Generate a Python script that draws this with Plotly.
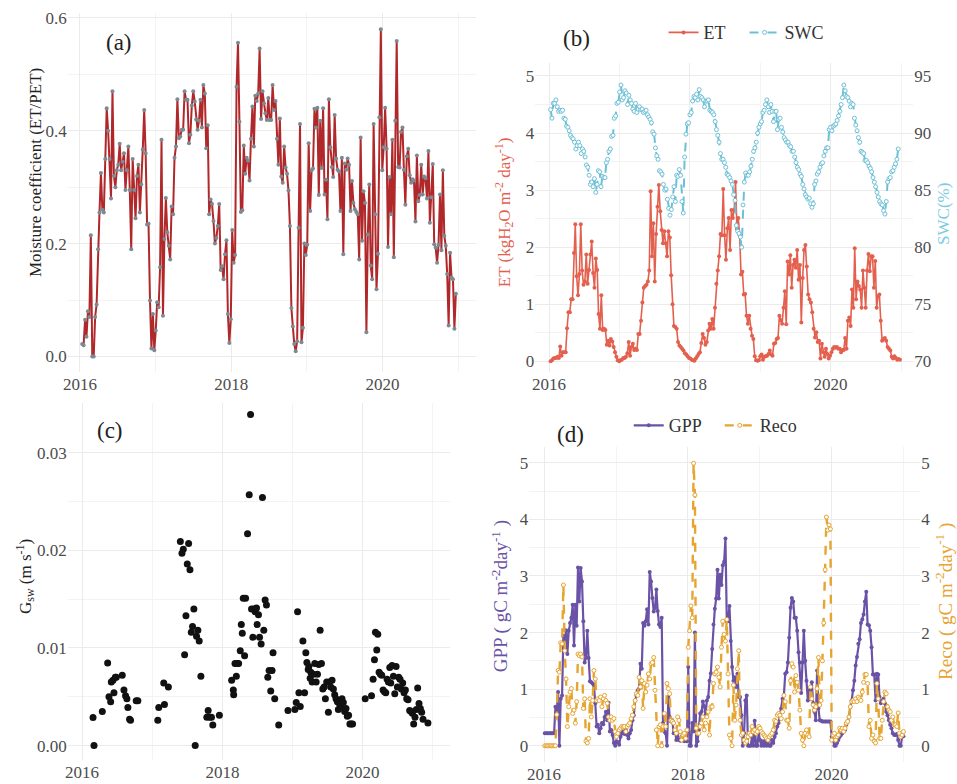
import numpy as np
import pandas as pd
import plotly.graph_objects as go

W, H = 957, 784
SERIF = "Liberation Serif"
TICK_COLOR = "#4d4d4d"
GRID = "#ebebeb"
GRID_MINOR = "#f3f3f3"

# ---------------- data ----------------
# (a) moisture coefficient ET/PET, weekly
moist_start, moist_end = "2016-01-12", "2020-12-20"
moist = [0.022,0.02,0.065,0.035,0.08,0.07,0.215,0.0,0.0,0.07,0.092,0.19,0.255,0.325,0.26,0.255,0.35,0.44,0.40,0.35,0.28,0.47,0.32,0.30,0.33,0.34,0.377,0.33,0.345,0.36,0.295,0.33,0.372,0.295,0.19,0.35,0.295,0.245,0.32,0.34,0.255,0.305,0.367,0.437,0.36,0.234,0.235,0.099,0.014,0.075,0.011,0.046,0.096,0.087,0.158,0.384,0.072,0.208,0.281,0.22,0.196,0.172,0.266,0.252,0.352,0.372,0.456,0.387,0.39,0.402,0.402,0.47,0.455,0.455,0.378,0.393,0.445,0.47,0.452,0.42,0.402,0.418,0.455,0.406,0.481,0.466,0.369,0.41,0.252,0.278,0.27,0.24,0.2,0.21,0.231,0.27,0.153,0.16,0.137,0.181,0.206,0.075,0.024,0.066,0.224,0.166,0.18,0.478,0.556,0.416,0.256,0.259,0.374,0.324,0.352,0.347,0.312,0.386,0.443,0.372,0.462,0.453,0.466,0.546,0.421,0.47,0.449,0.431,0.419,0.458,0.419,0.419,0.481,0.437,0.453,0.386,0.34,0.422,0.319,0.308,0.372,0.335,0.324,0.294,0.231,0.086,0.053,0.022,0.009,0.027,0.228,0.412,0.025,0.051,0.2,0.18,0.198,0.378,0.258,0.33,0.333,0.439,0.406,0.441,0.286,0.418,0.334,0.44,0.287,0.313,0.243,0.456,0.371,0.336,0.318,0.428,0.351,0.331,0.328,0.258,0.352,0.181,0.342,0.331,0.351,0.34,0.258,0.311,0.272,0.261,0.256,0.252,0.172,0.388,0.205,0.293,0.272,0.043,0.216,0.305,0.161,0.137,0.412,0.252,0.119,0.182,0.424,0.58,0.33,0.371,0.441,0.368,0.194,0.318,0.252,0.384,0.176,0.418,0.559,0.336,0.335,0.398,0.406,0.331,0.269,0.355,0.368,0.321,0.308,0.314,0.312,0.239,0.356,0.275,0.286,0.34,0.287,0.319,0.316,0.28,0.364,0.237,0.282,0.341,0.199,0.193,0.166,0.198,0.287,0.188,0.33,0.214,0.196,0.146,0.055,0.184,0.14,0.137,0.049,0.111]

# (b) evapotranspiration (kg H2O m-2 day-1) and soil water content (%)
et_start, et_end = "2016-01-09", "2020-12-26"
et = [0.0,0.02,0.05,0.06,0.06,0.08,0.06,0.26,0.1,0.16,0.16,0.16,0.58,0.86,0.86,1.09,1.09,1.9,2.4,1.49,1.16,1.53,2.4,1.59,1.34,1.4,1.87,1.36,1.6,1.87,2.1,1.55,1.29,1.8,1.6,0.83,0.57,1.16,0.55,0.57,0.55,0.29,0.36,0.28,0.39,0.35,0.25,0.16,0.08,0.02,0.0,0.02,0.03,0.06,0.06,0.08,0.14,0.34,0.1,0.25,0.31,0.2,0.22,0.2,0.48,0.48,0.71,1.03,1.29,1.32,1.34,1.4,1.59,2.98,1.84,2.42,1.4,2.23,2.71,3.09,2.63,2.3,2.07,2.28,2.07,1.84,2.28,2.17,1.51,1.0,0.62,0.6,0.57,0.34,0.28,0.25,0.22,0.19,0.14,0.12,0.09,0.06,0.05,0.03,0.02,0.01,0.05,0.09,0.13,0.16,0.32,0.48,0.41,0.29,0.34,0.54,0.66,0.57,0.74,0.57,0.94,1.36,1.59,1.84,2.23,2.21,3.02,2.21,1.78,2.33,2.51,1.95,2.65,2.51,2.65,3.14,2.32,2.51,2.21,1.52,1.57,1.17,1.18,0.8,0.66,0.8,0.57,0.45,0.39,0.09,0.02,0.01,0.02,0.09,0.12,0.03,0.08,0.09,0.1,0.13,0.19,0.12,0.1,0.31,0.32,0.39,0.41,0.8,0.72,0.66,0.94,1.23,0.65,1.75,1.52,1.86,1.29,1.69,1.78,1.64,1.95,1.43,1.69,0.68,1.46,1.95,2.04,1.66,1.17,1.09,1.03,0.86,0.57,0.42,0.51,0.34,0.36,0.05,0.31,0.16,0.08,0.22,0.13,0.05,0.1,0.16,0.22,0.25,0.24,0.25,0.22,0.22,0.16,0.2,0.2,0.41,0.22,0.71,0.77,0.62,1.26,0.94,1.98,1.09,1.4,1.32,1.26,0.94,1.59,1.29,0.94,1.59,1.88,1.58,1.84,1.84,1.29,1.76,0.94,1.14,1.17,0.71,0.36,0.39,0.41,0.36,0.25,0.22,0.19,0.08,0.05,0.09,0.06,0.03,0.04,0.03]

swc_start, swc_end = "2016-01-09", "2020-12-17"
swc = [92.05,91.3,92.6,92.6,92.9,92.3,91.9,92.0,91.9,92.0,91.3,91.2,90.6,90.5,90.2,89.8,89.6,89.5,89.2,88.6,88.9,89.2,88.9,88.2,88.6,88.4,87.9,87.2,87.0,86.3,85.5,85.7,85.3,86.0,84.8,85.5,86.7,86.6,85.3,86.2,86.1,86.1,87.4,87.7,88.4,88.6,89.7,89.8,91.3,91.5,92.6,92.7,93.6,94.2,92.9,93.1,93.7,93.5,92.5,93.3,92.9,92.6,92.1,91.9,92.6,91.8,92.1,92.3,92.05,92.1,91.8,91.9,92.0,91.6,91.4,91.2,90.9,90.1,89.9,88.7,88.0,87.7,86.7,86.6,86.4,85.5,85.0,85.1,84.2,83.4,82.8,83.3,84.4,85.3,84.0,86.3,86.2,86.8,86.3,84.0,83.0,87.9,89.9,90.8,90.9,91.6,91.8,92.8,93.2,93.1,93.4,92.9,93.8,93.2,93.1,92.9,92.3,92.8,92.8,92.9,92.0,91.9,91.8,91.6,91.0,90.3,89.8,89.2,88.2,87.7,87.7,87.4,87.0,86.4,86.3,86.1,85.8,85.5,84.6,84.1,81.9,81.4,81.2,80.9,80.0,83.7,85.7,86.5,86.3,86.3,86.6,87.1,87.7,88.4,88.7,89.2,90.0,90.5,90.8,91.0,91.8,92.0,92.5,92.9,92.3,91.8,92.5,91.9,91.0,91.9,91.9,90.3,91.2,91.3,90.5,90.1,89.6,89.4,89.2,89.2,88.9,88.8,88.4,88.4,87.9,87.4,87.0,86.8,86.4,86.2,85.5,85.1,84.6,84.4,84.2,84.3,83.8,83.5,83.8,85.5,85.8,86.4,86.6,87.0,87.3,87.4,88.0,88.4,88.7,88.7,90.3,90.5,90.2,90.6,90.7,90.8,91.1,91.5,91.9,92.5,93.1,94.2,93.7,93.2,93.1,92.8,92.3,92.6,92.5,91.3,90.7,90.2,89.6,89.2,88.4,88.3,88.2,87.6,87.6,87.4,87.1,86.9,86.6,86.1,85.7,85.3,84.8,84.4,84.0,83.8,83.7,83.2,82.9,84.0,85.7,86.0,86.1,86.6,86.7,87.0,87.3,87.7,88.6]

# (c) surface conductance Gsw (m s-1), decimal years
gsw_year = [2016.156,2016.170,2016.288,2016.364,2016.383,2016.407,2016.416,2016.440,2016.454,2016.473,2016.487,2016.572,2016.596,2016.619,2016.638,2016.652,2016.676,2016.690,2016.771,2016.794,
            2017.078,2017.092,2017.163,2017.173,2017.229,2017.400,2017.423,2017.442,2017.461,2017.480,2017.499,2017.518,2017.537,2017.556,2017.574,2017.593,2017.612,2017.631,2017.650,2017.669,2017.693,2017.778,2017.797,2017.820,2017.844,2017.863,2017.957,
            2018.132,2018.156,2018.161,2018.199,2018.180,2018.213,2018.232,2018.255,2018.270,2018.284,2018.298,2018.317,2018.331,2018.359,2018.383,2018.402,2018.416,2018.435,2018.449,2018.468,2018.487,2018.496,2018.515,2018.530,2018.553,2018.572,2018.591,2018.610,2018.629,2018.648,2018.667,2018.690,2018.709,2018.723,2018.747,2018.804,2018.936,
            2019.035,2019.054,2019.073,2019.092,2019.111,2019.149,2019.173,2019.191,2019.206,2019.225,2019.234,2019.253,2019.262,2019.281,2019.300,2019.319,2019.338,2019.357,2019.376,2019.395,2019.414,2019.433,2019.452,2019.470,2019.489,2019.513,2019.527,2019.546,2019.565,2019.584,2019.603,2019.622,2019.641,2019.655,2019.669,2019.688,2019.707,2019.726,2019.745,2019.764,2019.783,2019.801,2019.820,2019.839,2019.858,
            2020.038,2020.128,2020.151,2020.170,2020.184,2020.203,2020.217,2020.236,2020.255,2020.274,2020.293,2020.312,2020.331,2020.350,2020.369,2020.388,2020.402,2020.421,2020.440,2020.459,2020.478,2020.496,2020.515,2020.534,2020.553,2020.572,2020.591,2020.610,2020.629,2020.648,2020.671,2020.690,2020.709,2020.728,2020.747,2020.766,2020.785,2020.804,2020.823,2020.842,2020.861,2020.931]
gsw = [0.00287,0.0,0.0035,0.00845,0.005,0.0045,0.0065,0.0067,0.0054,0.007,0.007,0.0072,0.0057,0.0051,0.0048,0.0039,0.0027,0.0026,0.0046,0.0046,
       0.0026,0.0039,0.0064,0.0042,0.006,0.0209,0.0197,0.0201,0.0093,0.0133,0.0186,0.0207,0.018,0.0116,0.0122,0.014,0.0,0.0112,0.0118,0.0107,0.0071,0.0029,0.0036,0.0029,0.0029,0.0021,0.0031,
       0.0067,0.0057,0.0052,0.0071,0.0084,0.0084,0.0084,0.0097,0.0124,0.0115,0.0151,0.0092,0.0151,0.0217,0.0257,0.0339,0.014,0.0111,0.014,0.0137,0.0141,0.0124,0.0134,0.0111,0.0104,0.0254,0.0118,0.0149,0.0144,0.007,0.0077,0.0056,0.0077,0.0095,0.0048,0.0021,0.0036,
       0.0037,0.0044,0.0137,0.0054,0.004,0.0107,0.0054,0.0095,0.0085,0.0078,0.0081,0.0069,0.0075,0.0065,0.0073,0.0084,0.0065,0.0073,0.0083,0.0118,0.0084,0.0058,0.006,0.0048,0.0065,0.0034,0.0065,0.006,0.0067,0.0058,0.0052,0.0048,0.0045,0.0037,0.0043,0.004,0.0048,0.0044,0.0035,0.0038,0.003,0.0031,0.0022,0.0022,0.0022,
       0.0048,0.0051,0.0068,0.0088,0.0116,0.0098,0.0114,0.0075,0.0073,0.0072,0.0057,0.0055,0.0054,0.0068,0.0065,0.008,0.0064,0.0082,0.0071,0.0053,0.0081,0.006,0.007,0.0068,0.0058,0.0064,0.0054,0.0057,0.0048,0.0047,0.0036,0.0035,0.0033,0.0022,0.0029,0.0037,0.0059,0.0043,0.0038,0.0034,0.0027,0.0023]

# (d) GPP and ecosystem respiration (gC m-2 day-1), weekly
flux_start, flux_end = "2016-01-05", "2020-12-31"
gpp = [0.22,0.22,0.22,0.22,0.22,0.22,0.22,0.22,0.69,0.6,0.95,0.0,0.83,0.89,1.94,1.85,2.04,1.62,2.03,2.17,2.26,2.49,1.77,2.49,2.12,3.15,2.55,3.14,2.9,2.2,1.47,1.56,2.03,1.55,1.14,1.12,1.1,1.07,0.75,0.34,0.37,0.22,0.31,0.4,0.38,0.51,0.6,0.45,0.76,0.25,0.28,0.19,0.05,0.0,0.08,0.06,0.02,0.16,0.22,0.25,0.21,0.28,0.19,0.13,0.22,0.28,0.45,0.54,0.8,0.89,0.98,1.01,1.45,1.36,2.17,2.12,2.2,2.41,2.14,3.07,2.9,2.61,2.37,2.44,2.76,2.38,2.14,2.1,2.26,0.4,0.25,0.22,0.0,0.86,0.51,0.43,0.45,0.22,0.28,0.1,0.22,0.1,0.09,0.16,0.21,0.08,0.1,0.08,1.39,0.0,0.0,0.4,0.25,2.0,0.0,0.08,0.28,0.57,0.6,0.78,0.7,0.54,0.8,0.86,1.15,1.28,1.71,2.14,2.42,2.6,3.11,2.6,3.02,2.84,3.19,3.25,3.66,2.2,2.2,2.47,1.85,1.39,1.15,1.21,1.04,1.27,0.86,0.86,0.54,0.0,0.22,0.8,0.89,0.0,0.0,0.0,0.16,0.0,0.44,0.0,0.0,0.22,0.1,0.0,0.08,0.0,0.09,0.0,0.08,0.0,0.0,0.1,0.05,0.16,0.22,0.34,0.4,0.54,0.66,0.83,0.89,1.27,1.3,1.47,1.91,2.44,2.61,2.55,2.26,2.26,2.03,1.65,1.47,0.93,1.47,2.03,1.5,1.15,0.8,0.98,0.82,1.12,0.75,0.6,0.45,1.33,0.66,0.45,0.44,0.43,0.43,0.43,0.43,0.43,0.43,0.43,0.16,0.1,0.0,0.0,0.05,0.1,0.16,0.19,0.22,0.25,0.28,0.37,0.43,0.51,0.69,0.8,0.98,1.15,1.42,1.57,1.8,1.88,2.17,2.23,2.32,2.55,2.72,2.14,2.13,2.03,1.74,1.26,1.26,0.8,1.27,1.26,0.86,0.75,0.8,0.83,0.75,0.6,0.54,0.45,0.37,0.31,0.22,0.19,0.19,0.21,0.1,0.0,0.0,0.16,0.17]
reco = [0.0,0.0,0.0,0.0,0.0,0.0,0.0,0.0,0.0,0.55,1.33,1.3,1.82,1.8,2.84,1.68,1.18,0.34,0.69,0.95,1.01,0.57,0.63,0.4,0.78,1.62,1.59,1.62,1.57,0.66,0.83,0.08,0.05,0.13,0.83,0.51,0.8,1.33,1.18,0.8,0.83,0.8,0.86,0.69,0.83,0.89,0.8,0.75,0.51,0.45,0.51,0.45,0.48,0.25,0.16,0.22,0.28,0.31,0.34,0.33,0.34,0.25,0.34,0.37,0.4,0.48,0.54,0.69,0.8,0.92,0.89,1.21,1.04,1.15,0.66,1.1,0.95,1.07,1.27,1.18,1.45,1.47,1.56,0.98,0.28,0.0,0.34,0.37,0.0,0.34,0.57,0.34,1.1,1.01,0.92,0.45,0.43,0.4,0.28,0.22,0.51,0.45,0.25,0.1,0.19,0.22,0.13,0.28,1.74,2.03,2.47,2.26,4.99,4.43,0.31,0.22,0.22,0.34,0.4,0.51,0.28,0.4,0.51,0.6,0.19,0.69,0.69,1.1,1.27,1.3,1.39,1.21,1.04,1.74,2.2,1.97,1.85,2.23,1.27,0.19,0.13,0.0,1.07,0.45,0.72,1.36,1.68,0.45,0.19,0.22,0.1,0.05,0.08,0.16,0.22,0.19,0.34,0.25,0.28,0.22,0.25,0.34,0.31,0.25,0.22,0.19,0.16,0.13,0.1,0.16,0.19,0.22,0.28,0.45,0.43,0.54,0.57,0.54,0.48,0.6,0.89,0.78,0.45,0.45,0.31,1.15,1.45,1.39,0.95,1.24,1.12,0.98,0.63,0.22,0.1,0.0,0.22,0.28,0.19,0.16,1.04,0.83,0.72,0.63,0.69,1.01,1.56,0.72,0.8,1.5,2.17,3.11,4.04,3.81,3.9,3.83,0.1,0.19,0.22,0.1,0.16,0.19,0.31,0.28,0.31,0.25,0.31,0.4,0.43,0.51,0.69,0.78,0.8,0.78,0.83,0.78,0.86,0.83,0.8,0.95,1.12,1.26,1.26,1.1,0.34,0.45,0.13,0.19,0.08,0.05,1.1,0.83,0.13,0.13,0.45,0.78,0.95,0.92,0.69,0.63,0.6,0.45,0.51,0.37,0.37,0.34,0.58,0.22,0.16,0.19,0.25]

year_ticks = ["2016-01-01", "2018-01-01", "2020-01-01"]
year_labels = ["2016", "2018", "2020"]


def series_dates(start, end, n):
    return pd.date_range(start, end, periods=n)


def decimal_year_to_date(values):
    out = []
    for v in values:
        yr = int(v)
        start = pd.Timestamp(year=yr, month=1, day=1)
        days = (pd.Timestamp(year=yr + 1, month=1, day=1) - start).days
        out.append(start + pd.Timedelta(days=(v - yr) * days))
    return out


def dom_x(left, right):
    return [left / W, right / W]


def dom_y(top, bottom):
    return [1 - bottom / H, 1 - top / H]


fig = go.Figure()

# (a)
fig.add_trace(go.Scatter(
    x=series_dates(moist_start, moist_end, len(moist)), y=moist,
    mode="lines+markers", line=dict(color="#b0282a", width=2),
    marker=dict(color="#7d8a93", size=4), showlegend=False,
    xaxis="x", yaxis="y"))

# (b)
fig.add_trace(go.Scatter(
    x=series_dates(swc_start, swc_end, len(swc)), y=swc, name="SWC",
    mode="lines+markers", line=dict(color="#6cc0d6", width=2, dash="dash"),
    marker=dict(color="white", size=4, line=dict(color="#6cc0d6", width=1)),
    legend="legend", xaxis="x2", yaxis="y3"))
fig.add_trace(go.Scatter(
    x=series_dates(et_start, et_end, len(et)), y=et, name="ET",
    mode="lines+markers", line=dict(color="#e4604e", width=1.6),
    marker=dict(color="#e4604e", size=4), legend="legend",
    xaxis="x2", yaxis="y2"))

# (c)
fig.add_trace(go.Scatter(
    x=decimal_year_to_date(gsw_year), y=gsw, mode="markers",
    marker=dict(color="#111111", size=7), showlegend=False,
    xaxis="x3", yaxis="y4"))

# (d)
flux_dates_g = series_dates(flux_start, flux_end, len(gpp))
flux_dates_r = series_dates(flux_start, flux_end, len(reco))
fig.add_trace(go.Scatter(
    x=flux_dates_g, y=gpp, name="GPP", mode="lines+markers",
    line=dict(color="#6a52a6", width=2.2), marker=dict(color="#6a52a6", size=4),
    legend="legend2", xaxis="x4", yaxis="y5"))
fig.add_trace(go.Scatter(
    x=flux_dates_r, y=reco, name="Reco", mode="lines+markers",
    line=dict(color="#e6a431", width=2.4, dash="dash"),
    marker=dict(color="white", size=4, line=dict(color="#e6a431", width=1)),
    legend="legend2", xaxis="x4", yaxis="y6"))

tick_font = dict(family=SERIF, size=17, color=TICK_COLOR)


def xaxis(domain, anchor, rng):
    return dict(domain=domain, anchor=anchor, type="date", range=rng,
                tickvals=year_ticks, ticktext=year_labels, tickfont=tick_font,
                showgrid=True, gridcolor=GRID, gridwidth=1, zeroline=False,
                showline=False, ticks="",
                minor=dict(tickvals=["2017-01-01", "2019-01-01", "2021-01-01"],
                           showgrid=True, gridcolor=GRID_MINOR, gridwidth=1))


def yaxis(domain, anchor, rng, tv, tt, minor_tv, **kw):
    d = dict(domain=domain, anchor=anchor, range=rng, tickvals=tv, ticktext=tt,
             tickfont=tick_font, showgrid=True, gridcolor=GRID, gridwidth=1,
             zeroline=False, showline=False, ticks="",
             minor=dict(tickvals=minor_tv, showgrid=True, gridcolor=GRID_MINOR, gridwidth=1))
    d.update(kw)
    return d


layout = dict(
    width=W, height=H, margin=dict(l=0, r=0, t=0, b=0),
    paper_bgcolor="white", plot_bgcolor="white",
    font=dict(family=SERIF, color="#333333"),
    xaxis=xaxis(dom_x(63, 473), "y", ["2015-11-03", "2021-03-25"]),
    yaxis=yaxis(dom_y(9, 372), "x", [-0.028, 0.609], [0, 0.2, 0.4, 0.6],
                ["0.0", "0.2", "0.4", "0.6"], [0.1, 0.3, 0.5]),
    xaxis2=xaxis(dom_x(533, 913), "y2", ["2015-10-21", "2021-03-05"]),
    yaxis2=yaxis(dom_y(60, 372), "x2", [-0.19, 5.22], [0, 1, 2, 3, 4, 5],
                 ["0", "1", "2", "3", "4", "5"], [0.5, 1.5, 2.5, 3.5, 4.5]),
    yaxis3=dict(overlaying="y2", anchor="x2", side="right", range=[69.05, 96.1],
                tickvals=[70, 75, 80, 85, 90, 95], tickfont=tick_font,
                showgrid=False, zeroline=False, showline=False, ticks=""),
    xaxis3=xaxis(dom_x(63, 447), "y4", ["2015-10-18", "2021-03-30"]),
    yaxis4=yaxis(dom_y(403, 764), "x3", [-0.0015, 0.0351], [0, 0.01, 0.02, 0.03],
                 ["0.00", "0.01", "0.02", "0.03"], [0.005, 0.015, 0.025]),
    xaxis4=xaxis(dom_x(527, 920), "y5", ["2015-10-18", "2021-03-26"]),
    yaxis5=yaxis(dom_y(448, 766), "x4", [-0.29, 5.27], [0, 1, 2, 3, 4, 5],
                 ["0", "1", "2", "3", "4", "5"], [0.5, 1.5, 2.5, 3.5, 4.5]),
    yaxis6=dict(overlaying="y5", anchor="x4", side="right", range=[-0.29, 5.27],
                tickvals=[0, 1, 2, 3, 4, 5], tickfont=tick_font,
                showgrid=False, zeroline=False, showline=False, ticks=""),
    legend=dict(orientation="h", x=662 / W, y=1 - 29 / H, xanchor="left",
                yanchor="middle", font=dict(family=SERIF, size=18, color="#333333"),
                bgcolor="rgba(0,0,0,0)", itemwidth=30, traceorder="reversed",
                entrywidth=36),
    legend2=dict(orientation="h", x=627 / W, y=1 - 426 / H, xanchor="left",
                 yanchor="middle", font=dict(family=SERIF, size=18, color="#333333"),
                 bgcolor="rgba(0,0,0,0)", itemwidth=30, entrywidth=46),
)
fig.update_layout(**layout)


def text_at(x, y, text, size, color, angle=0):
    fig.add_annotation(x=x / W, y=1 - y / H, xref="paper", yref="paper",
                       text=text, showarrow=False, textangle=angle,
                       xanchor="center", yanchor="middle",
                       font=dict(family=SERIF, size=size, color=color))


# panel tags
text_at(115, 39, "(a)", 23, "#222222")
text_at(575, 35, "(b)", 23, "#222222")
text_at(106, 431, "(c)", 23, "#222222")
text_at(568, 435, "(d)", 23, "#222222")

# axis titles
text_at(30, 170, "Moisture coefficient (ET/PET)", 17, "#222222", -90)
text_at(502, 210, "ET (kgH<sub>2</sub>O m<sup>-2</sup> day<sup>-1</sup>)", 17, "#e4604e", -90)
text_at(944, 212, "SWC(%)", 17, "#7ccbe0", -90)
text_at(20, 578, "G<sub>sw</sub> (m s<sup>-1</sup>)", 17, "#222222", -90)
text_at(498, 598, "GPP ( gC m<sup>-2</sup>day<sup>-1</sup> )", 19, "#6a52a6", -90)
text_at(945, 604, "Reco ( gC m<sup>-2</sup>day<sup>-1</sup> )", 19, "#e6a431", -90)

fig.write_html("out.html")
